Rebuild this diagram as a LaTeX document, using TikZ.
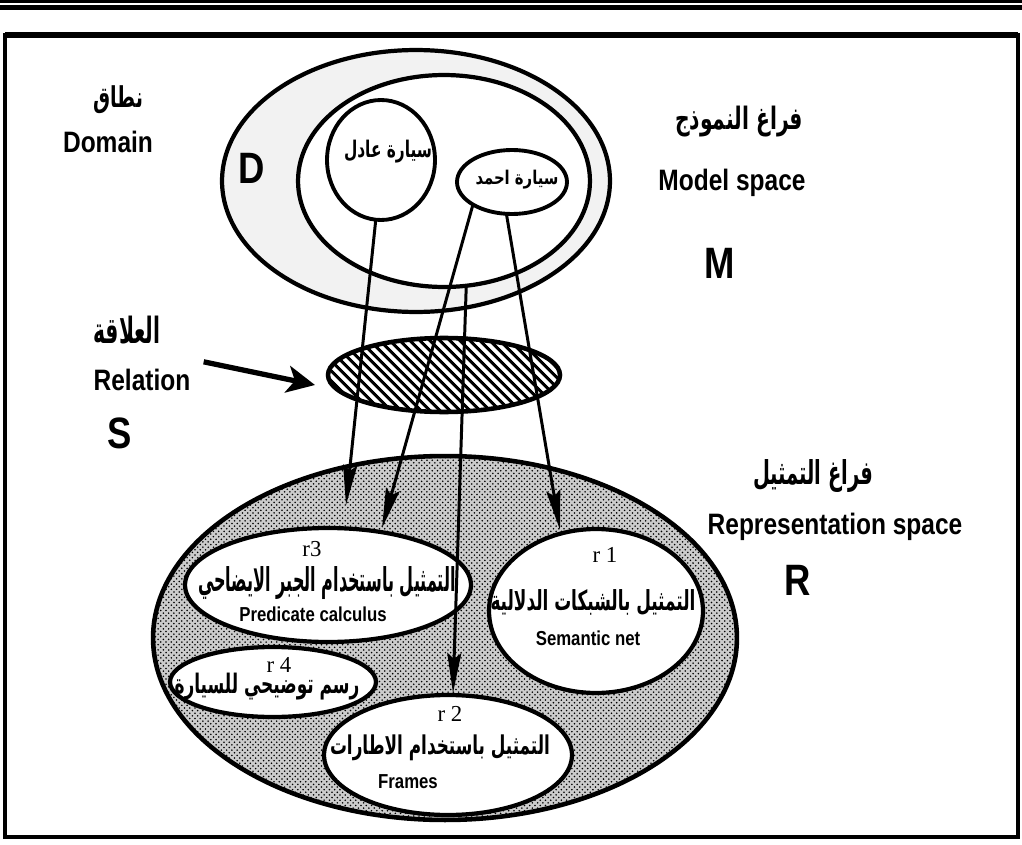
\documentclass[tikz,border=0pt]{standalone}
\usepackage{fontspec}
\usepackage{graphicx}
\usetikzlibrary{shapes.geometric,arrows.meta,patterns,patterns.meta,calc}
\TeXXeTstate=1
\newfontfamily\arabicfont[Script=Arabic]{DejaVu Sans}
\newfontfamily\engf[FakeStretch=0.83]{Liberation Sans}
\newfontfamily\serf{Liberation Serif}
\newcommand\arw[3]{\resizebox*{#1}{#2}{\arabicfont\bfseries #3}}
\begin{document}
\begin{tikzpicture}[x=0.02cm,y=-0.02cm,
  ell/.style={ellipse, draw, line width=2.4pt, inner sep=0pt, outer sep=0pt},
  lbl/.style={inner sep=0pt, font=\engf\bfseries\fontsize{16.8}{18}\selectfont},
  big/.style={inner sep=0pt, font=\engf\bfseries\fontsize{25}{28}\selectfont},
  sub/.style={inner sep=0pt, font=\engf\bfseries\fontsize{11.5}{13}\selectfont},
  rl/.style={inner sep=0pt, font=\serf\fontsize{13}{15}\selectfont},
  ar/.style={inner sep=0pt},
  arr/.style={line width=1.7pt, -{Stealth[length=0.8cm,width=0.28cm,inset=0.12cm]}},
  relarr/.style={line width=3pt, -{Stealth[length=0.56cm,width=0.54cm,inset=0.15cm]}}
]
\useasboundingbox (0,0) rectangle (1022,845);
% top rules and frame
\draw[line width=1.7pt] (0,1.5) -- (1022,1.5);
\draw[line width=2.8pt] (0,7.5) -- (1022,7.5);
\draw[line width=2.3pt] (5,35) rectangle (1018,837);
\draw[line width=3.4pt] (5,35) -- (1018,35);

% model space
\node[ell, fill=gray!10, minimum width=7.76cm, minimum height=5.24cm] (Mout) at (416,181) {};
\node[ell, fill=white, minimum width=5.84cm, minimum height=4.24cm] (Min) at (444,181) {};
\node[ell, fill=white, line width=2.2pt, minimum width=2.16cm, minimum height=2.4cm] (adel) at (381,160) {};
\node[ell, fill=white, line width=2.2pt, minimum width=2.2cm, minimum height=1.28cm] (ahmad) at (512,182) {};

% relation
\node[ell, line width=2.6pt, pattern={Lines[angle=-45,distance=4pt,line width=1.8pt]}, minimum width=4.64cm, minimum height=1.48cm] (hatch) at (444,375) {};

% representation space
\node[ell, line width=2.6pt, fill=gray!40, postaction={pattern=crosshatch dots}, minimum width=11.68cm, minimum height=7.28cm] (Rsp) at (445,638) {};
\node[ell, fill=white, minimum width=5.72cm, minimum height=2.28cm] (r3) at (328,585) {};
\node[ell, fill=white, minimum width=4.28cm, minimum height=3.28cm] (r1) at (596,611) {};
\node[ell, fill=white, minimum width=4.12cm, minimum height=1.4cm] (r4) at (273,682) {};
\node[ell, fill=white, minimum width=4.96cm, minimum height=2.4cm] (r2) at (448,755) {};

% texts
\node[ar] (tDomAr) at (118,100) {\arw{1.0cm}{0.56cm}{\beginR نطاق\endR}};
\node[lbl] (tDom) at (108,142) {Domain};
\node[big] (tD) at (252,168) {D};
\node[ar] (tModAr) at (739,122) {\arw{2.56cm}{0.62cm}{\beginR فراغ النموذج\endR}};
\node[lbl] (tMod) at (732,183) {Model space};
\node[big] (tM) at (720,263) {M};
\node[ar] (tRelAr) at (127,330) {\arw{1.34cm}{0.56cm}{\beginR العلاقة\endR}};
\node[lbl] (tRel) at (142,380) {Relation};
\node[big] (tS) at (120,433) {S};
\node[ar] (tRepAr) at (813,476) {\arw{2.4cm}{0.66cm}{\beginR فراغ التمثيل\endR}};
\node[lbl] (tRep) at (835,527) {Representation space};
\node[big] (tR) at (798,580) {R};
\node[ar] (tAdel) at (388,152) {\arw{1.76cm}{0.46cm}{\beginR سيارة عادل\endR}};
\node[ar] (tAhmad) at (517,180) {\arw{1.66cm}{0.38cm}{\beginR سيارة احمد\endR}};

\node[rl] (l3) at (312,549) {r3};
\node[ar] (a3) at (327,583) {\arw{5.16cm}{0.66cm}{\beginR التمثيل باستخدام الجبر الايضاحي\endR}};
\node[sub] (e3) at (313,614) {Predicate calculus};
\node[rl] (l1) at (605,555) {r 1};
\node[ar] (a1) at (593,603) {\arw{4.1cm}{0.52cm}{\beginR التمثيل بالشبكات الدلالية\endR}};
\node[sub] (e1) at (588,638) {Semantic net};
\node[ar] (a4) at (267,687) {\arw{3.7cm}{0.54cm}{\beginR رسم توضيحي للسيارة\endR}};
\node[rl] (l4) at (279,665) {r 4};
\node[rl] (l2) at (450,714) {r 2};
\node[ar] (a2) at (440,748) {\arw{4.4cm}{0.52cm}{\beginR التمثيل باستخدام الاطارات\endR}};
\node[sub] (e2) at (408,782) {Frames};

% connectors
\coordinate (t1) at (346,505);
\coordinate (t2) at (382,528);
\coordinate (t3) at (453,693);
\coordinate (t4) at (560,530);
\coordinate (relTip) at (315,385);
\draw[arr] (adel.265) -- (t1);
\draw[arr] (ahmad.210) -- (t2);
\draw[arr] (Min.-78) -- (t3);
\draw[arr] (ahmad.260) -- (t4);
\draw[relarr] ($(tRel.north east)+(13,-7)$) -- (relTip);
\end{tikzpicture}
\end{document}
